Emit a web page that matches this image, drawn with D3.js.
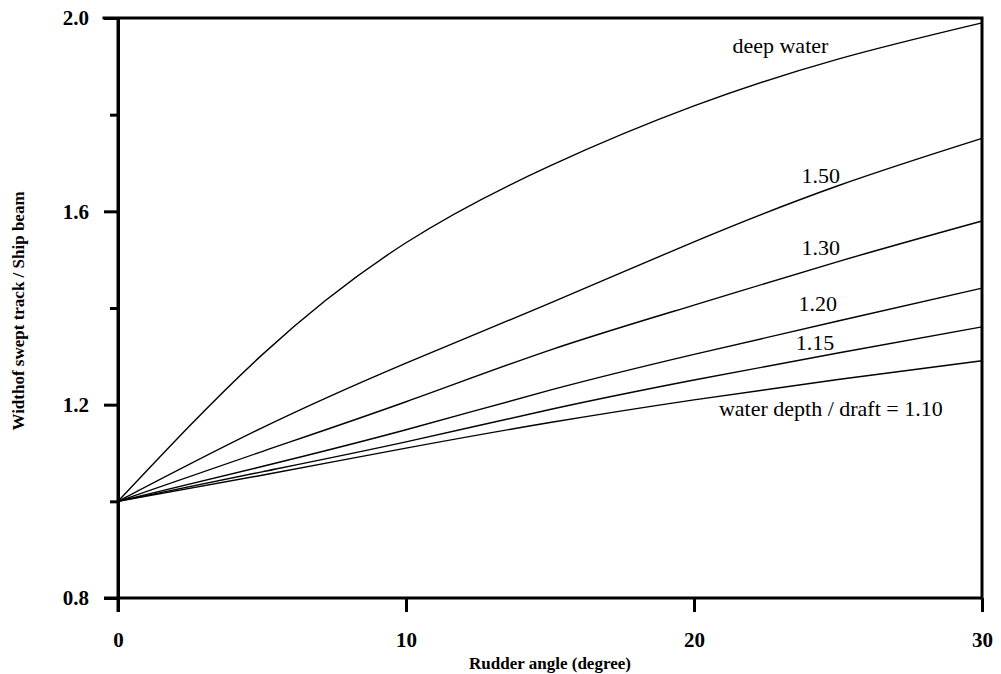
<!DOCTYPE html>
<html>
<head>
<meta charset="utf-8">
<script src="https://cdn.jsdelivr.net/npm/d3@7/dist/d3.min.js"></script>
<style>
  html, body { margin: 0; padding: 0; background: #fff; }
  svg { display: block; }
  svg text { font-family: "Liberation Serif", "Tinos", "Nimbus Roman", "Times New Roman", "DejaVu Serif", serif; }
</style>
</head>
<body>
<svg id="chart" width="1001" height="674"></svg>
<script>
// ---- data ----
const rudderAngles = [0, 5, 10, 15, 20, 25, 30];
const deepWater = [1.0, 1.303, 1.535, 1.694, 1.818, 1.915, 1.990];
const ratio150  = [1.0, 1.152, 1.286, 1.410, 1.537, 1.653, 1.751];
const ratio130  = [1.0, 1.103, 1.206, 1.313, 1.406, 1.496, 1.580];
const ratio120  = [1.0, 1.072, 1.148, 1.230, 1.304, 1.373, 1.441];
const ratio115  = [1.0, 1.061, 1.123, 1.190, 1.251, 1.307, 1.361];
const ratio110  = [1.0, 1.054, 1.110, 1.163, 1.210, 1.252, 1.291];
const seriesNames = ["deep water", "1.50", "1.30", "1.20", "1.15", "water depth / draft = 1.10"];
const labelAngle = [23.0, 24.4, 24.4, 24.3, 24.2, 24.75];
const labelValue = [1.928, 1.659, 1.510, 1.394, 1.313, 1.177];
const xTicks = [0, 10, 20, 30];
const yTicks = [0.8, 1.2, 1.6, 2.0];
const yMinorTicks = [1.0, 1.4, 1.8];
const xTitle = "Rudder angle (degree)";
const yTitle = "Widthof swept track / Ship beam";

const seriesValues = [deepWater, ratio150, ratio130, ratio120, ratio115, ratio110];

// ---- layout ----
const svg = d3.select("#chart");
const pLeft = 118, pRight = 982, pTop = 18, pBottom = 598;
const x = d3.scaleLinear().domain([0, 30]).range([pLeft, pRight]);
const y = d3.scaleLinear().domain([0.8, 2.0]).range([pBottom, pTop]);

// frame (top and right)
svg.append("path")
  .attr("d", `M${pLeft - 14},${pTop}H${pRight}V${pBottom}`)
  .attr("fill", "none").attr("stroke", "#000").attr("stroke-width", 3)
  .attr("stroke-linecap", "square");

// y axis
const yAxis = svg.append("g").attr("transform", `translate(${pLeft},0)`)
  .call(d3.axisLeft(y).tickValues(yTicks).tickSize(14).tickSizeOuter(0).tickPadding(15)
    .tickFormat(d3.format(".1f")));
const yMinor = svg.append("g").attr("transform", `translate(${pLeft},0)`)
  .call(d3.axisLeft(y).tickValues(yMinorTicks).tickSize(8).tickSizeOuter(0).tickFormat(""));

// x axis
const xAxis = svg.append("g").attr("transform", `translate(0,${pBottom})`)
  .call(d3.axisBottom(x).tickValues(xTicks).tickSize(14).tickSizeOuter(0).tickPadding(20)
    .tickFormat(d3.format("d")));

[yAxis, yMinor, xAxis].forEach(g => {
  g.attr("font-family", null);
  g.select(".domain").attr("stroke", "#000").attr("stroke-width", 3);
  g.selectAll(".tick line").attr("stroke", "#000").attr("stroke-width", 3);
  g.selectAll("text").attr("font-weight", "bold")
    .attr("font-size", 21).attr("fill", "#000");
});
// extend domain lines to meet outer ticks
yAxis.select(".domain").attr("d", `M0,${pTop}V${pBottom + 14}`);
xAxis.select(".domain").attr("d", `M${pLeft - 14},0H${pRight}`);

// curves
const line = d3.line()
  .x((d, i) => x(rudderAngles[i]))
  .y(d => y(d))
  .curve(d3.curveNatural);

svg.append("g").selectAll("path")
  .data(seriesValues)
  .join("path")
  .attr("d", d => line(d))
  .attr("fill", "none")
  .attr("stroke", "#000")
  .attr("stroke-width", 1.4);

// curve labels
svg.append("g").selectAll("text")
  .data(seriesNames)
  .join("text")
  .attr("x", (d, i) => x(labelAngle[i]))
  .attr("y", (d, i) => y(labelValue[i]))
  .attr("text-anchor", "middle")
  .attr("font-size", 22)
  .attr("fill", "#000")
  .text(d => d);

// axis titles
svg.append("text")
  .attr("x", (pLeft + pRight) / 2).attr("y", 669)
  .attr("text-anchor", "middle")
  .attr("font-weight", "bold").attr("font-size", 17)
  .text(xTitle);

svg.append("text")
  .attr("transform", `translate(24,311) rotate(-90)`)
  .attr("text-anchor", "middle")
  .attr("font-weight", "bold").attr("font-size", 17)
  .text(yTitle);
</script>
</body>
</html>
